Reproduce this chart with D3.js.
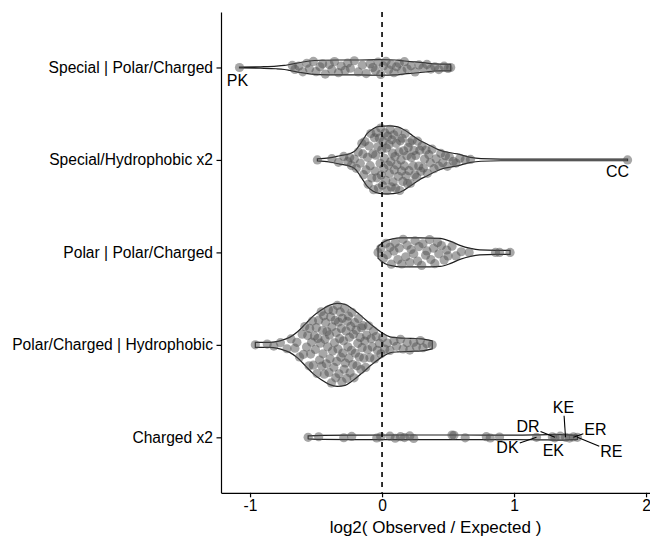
<!DOCTYPE html>
<html>
<head>
<meta charset="utf-8">
<script src="https://cdn.jsdelivr.net/npm/d3@7"></script>
<style>
  body { margin: 0; background: #fff; }
  svg text { font-family: "Liberation Sans", Arial, Helvetica, sans-serif; }
</style>
</head>
<body>
<svg id="chart"></svg>
<script>
const categories = ["Special | Polar/Charged", "Special/Hydrophobic x2", "Polar | Polar/Charged",
  "Polar/Charged | Hydrophobic", "Charged x2"];
const xTicks = [-1, 0, 1, 2];
const xTitle = "log2( Observed / Expected )";

// violin outlines: [log2 ratio, half width as a share of the category step]
const specialPolarViolin = [[-1.08,0.005],[-0.92,0.008],[-0.80,0.014],[-0.74,0.022],[-0.70,0.032],[-0.62,0.054],
  [-0.55,0.07],[-0.47,0.078],[-0.32,0.081],[-0.17,0.081],[-0.02,0.084],[0.10,0.081],[0.17,0.07],[0.25,0.06],
  [0.33,0.049],[0.40,0.038],[0.48,0.036],[0.52,0.033]];
const specialHydroViolin = [[-0.49,0.011],[-0.40,0.022],[-0.32,0.045],[-0.24,0.07],[-0.20,0.103],[-0.17,0.162],
  [-0.14,0.227],[-0.115,0.281],[-0.07,0.335],[-0.02,0.362],[0.05,0.368],[0.12,0.357],[0.17,0.324],[0.23,0.265],
  [0.28,0.216],[0.34,0.173],[0.44,0.103],[0.57,0.065],[0.67,0.027],[0.75,0.014],[0.90,0.009],[1.86,0.009]];
const polarPolarViolin = [[-0.03,0.065],[0.02,0.119],[0.08,0.146],[0.14,0.157],[0.29,0.157],[0.44,0.151],
  [0.52,0.119],[0.59,0.076],[0.67,0.043],[0.74,0.027],[0.86,0.022],[0.97,0.022]];
const polarHydroViolin = [[-0.96,0.027],[-0.85,0.027],[-0.79,0.038],[-0.74,0.059],[-0.70,0.081],[-0.64,0.141],
  [-0.58,0.227],[-0.52,0.314],[-0.46,0.378],[-0.40,0.427],[-0.34,0.449],[-0.28,0.438],[-0.22,0.384],[-0.15,0.303],
  [-0.08,0.216],[0.0,0.13],[0.06,0.086],[0.12,0.076],[0.22,0.07],[0.30,0.065],[0.38,0.043]];
const chargedViolin = [[-0.56,0.016],[-0.45,0.022],[-0.2,0.024],[0.2,0.025],[0.6,0.025],[1.0,0.024],
  [1.2,0.027],[1.35,0.03],[1.48,0.022]];

// points: [log2 ratio, place across the violin from -1 to 1]
const specialPolarPts = [[-1.08,0],[-0.68,0.6],[-0.66,-0.5],[-0.63,0.3],[-0.60,-0.8],[-0.57,0.7],[-0.55,-0.2],
  [-0.52,0.9],[-0.50,-0.6],[-0.47,0.1],[-0.45,0.5],[-0.43,-0.9],[-0.40,0.4],[-0.38,-0.3],[-0.36,0.8],[-0.33,-0.7],
  [-0.31,0.2],[-0.28,-0.4],[-0.26,0.6],[-0.24,-0.1],[-0.21,0.9],[-0.18,-0.6],[-0.15,0.3],[-0.12,-0.8],[-0.09,0.5],
  [-0.07,0.0],[-0.05,-0.4],[-0.03,0.7],[-0.01,-0.9],[0.01,0.2],[0.03,0.8],[0.05,-0.3],[0.07,0.4],[0.09,-0.7],
  [0.11,0.1],[0.13,0.6],[0.15,-0.5],[0.17,0.9],[0.19,-0.2],[0.22,0.3],[0.25,-0.8],[0.28,0.5],[0.31,-0.1],
  [0.34,0.7],[0.37,-0.4],[0.40,0.2],[0.43,-0.6],[0.47,0.4],[0.50,-0.3],[0.52,0.0]];
const specialHydroPts = [[-0.49,0],[-0.38,0.5],[-0.33,-0.6],[-0.29,0.7],[-0.26,-0.3],[-0.245,0.4],[-0.232,-0.8],
  [-0.21,0.1],[-0.195,-0.8],[-0.18,0.6],[-0.165,-0.2],[-0.153,0.9],[-0.145,0.3],[-0.14,-0.7],[-0.13,0.8],
  [-0.12,-0.4],[-0.11,0.1],[-0.105,-0.9],[-0.098,0.5],[-0.09,-0.2],[-0.085,0.9],[-0.078,-0.6],[-0.07,0.2],
  [-0.064,-0.95],[-0.057,0.7],[-0.052,-0.35],[-0.048,0.15],[-0.044,0.85],[-0.038,-0.55],[-0.032,0.4],
  [-0.027,-0.85],[-0.02,0.65],[-0.015,-0.1],[-0.01,0.95],[-0.006,-0.45],[-0.002,0.3],[0.003,-0.75],[0.008,0.55],
  [0.013,-0.25],[0.018,0.05],[0.022,0.8],[0.028,-0.6],[0.033,0.35],[0.038,-0.9],[0.043,0.7],[0.048,-0.15],
  [0.052,0.45],[0.056,-0.4],[0.061,0.9],[0.066,-0.05],[0.07,-0.8],[0.074,0.6],[0.079,0.2],[0.084,-0.65],
  [0.089,0.75],[0.093,-0.3],[0.098,0.1],[0.103,-0.85],[0.108,0.5],[0.113,-0.15],[0.118,0.85],[0.123,-0.5],
  [0.128,0.25],[0.134,-0.95],[0.139,0.6],[0.144,0],[0.148,-0.35],[0.153,0.7],[0.158,-0.7],[0.164,0.3],
  [0.17,-0.2],[0.176,0.9],[0.182,-0.55],[0.188,0.15],[0.193,-0.85],[0.198,0.45],[0.204,-0.4],[0.21,0.65],
  [0.216,-0.9],[0.222,0.1],[0.229,0.8],[0.236,-0.25],[0.242,0.4],[0.248,-0.65],[0.255,0.2],[0.262,-0.8],
  [0.27,0.9],[0.278,-0.3],[0.286,0.5],[0.294,-0.6],[0.303,0.75],[0.313,-0.45],[0.322,0.05],[0.333,0.6],
  [0.344,-0.85],[0.355,0.35],[0.366,-0.2],[0.38,0.8],[0.394,-0.7],[0.41,0.1],[0.43,-0.6],[0.445,0.7],
  [0.46,-0.3],[0.48,0.5],[0.495,-0.8],[0.51,0.4],[0.54,-0.2],[0.56,-0.5],[0.59,0.3],[0.63,0],[0.67,0.2],[1.86,0]];
const polarPolarPts = [[-0.03,0],[-0.01,0.5],[0.01,-0.6],[0.03,0.8],[0.04,-0.2],[0.06,0.4],[0.07,-0.9],[0.09,0.1],
  [0.10,0.7],[0.12,-0.5],[0.13,0.3],[0.15,-0.8],[0.16,0.9],[0.18,-0.3],[0.19,0.5],[0.21,-0.7],[0.22,0.2],
  [0.24,-0.1],[0.25,0.8],[0.27,-0.6],[0.28,0.4],[0.30,-0.9],[0.31,0.6],[0.33,-0.2],[0.34,0.1],[0.36,0.9],
  [0.37,-0.5],[0.39,0.3],[0.40,-0.8],[0.42,0.7],[0.43,-0.1],[0.45,0.5],[0.47,-0.6],[0.49,0.2],[0.50,-0.3],
  [0.53,0.6],[0.56,-0.4],[0.60,0.1],[0.66,0],[0.86,0],[0.89,0],[0.97,0]];
const polarHydroPts = [[-0.96,0],[-0.87,0.3],[-0.82,-0.4],[-0.77,0.5],[-0.72,-0.6],[-0.69,0.7],[-0.66,-0.3],
  [-0.645,0.2],[-0.625,-0.8],[-0.605,0.6],[-0.595,-0.5],[-0.585,0.9],[-0.572,-0.1],[-0.563,0.4],[-0.553,-0.85],
  [-0.548,0.65],[-0.541,-0.35],[-0.534,0.1],[-0.527,0.85],[-0.52,-0.7],[-0.512,0.3],[-0.505,-0.15],
  [-0.498,0.55],[-0.492,-0.9],[-0.486,0.2],[-0.48,0.75],[-0.473,-0.45],[-0.467,0.05],[-0.461,0.95],
  [-0.456,-0.6],[-0.451,0.4],[-0.447,-0.25],[-0.442,0.8],[-0.437,-0.8],[-0.432,0.15],[-0.427,0.6],
  [-0.422,-0.5],[-0.417,0.35],[-0.412,-0.05],[-0.406,0.9],[-0.402,-0.7],[-0.398,0.25],[-0.394,-0.35],
  [-0.389,0.7],[-0.384,-0.95],[-0.379,0.45],[-0.375,-0.15],[-0.37,0.85],[-0.365,-0.55],[-0.36,0.05],
  [-0.355,0.6],[-0.351,-0.8],[-0.347,0.3],[-0.343,-0.4],[-0.339,0.95],[-0.334,-0.1],[-0.33,0.55],
  [-0.326,-0.7],[-0.321,0.15],[-0.317,0.8],[-0.312,-0.3],[-0.308,0.4],[-0.304,-0.9],[-0.301,0.65],
  [-0.297,-0.2],[-0.292,0.1],[-0.287,-0.6],[-0.283,0.9],[-0.278,-0.45],[-0.273,0.35],[-0.268,-0.85],
  [-0.264,0.6],[-0.259,-0.05],[-0.255,0.75],[-0.251,-0.35],[-0.247,0.2],[-0.242,-0.75],[-0.237,0.5],
  [-0.232,-0.15],[-0.228,0.9],[-0.222,-0.55],[-0.217,0.3],[-0.212,-0.95],[-0.207,0.65],[-0.202,-0.25],
  [-0.196,0.45],[-0.19,-0.65],[-0.184,0.05],[-0.178,0.85],[-0.172,-0.4],[-0.166,0.25],[-0.16,-0.85],
  [-0.155,0.6],[-0.151,-0.1],[-0.145,0.7],[-0.138,-0.5],[-0.131,0.15],[-0.124,-0.9],[-0.117,0.4],
  [-0.109,-0.2],[-0.102,0.85],[-0.092,-0.6],[-0.083,0.3],[-0.074,-0.1],[-0.065,0.75],[-0.056,-0.8],
  [-0.045,0.5],[-0.035,-0.35],[-0.02,0.1],[-0.008,-0.7],[0.005,0.6],[0.02,-0.4],[0.04,0.2],[0.06,-0.7],
  [0.09,0.5],[0.11,-0.2],[0.14,0.8],[0.16,-0.6],[0.19,0.3],[0.21,-0.8],[0.24,0.4],[0.26,-0.3],[0.29,0.7],
  [0.31,-0.5],[0.34,0.2],[0.38,0]];
const chargedPts = [[-0.56,0],[-0.48,0.3],[-0.29,-0.2],[-0.23,0.4],[-0.04,-0.3],[-0.01,0.2],[0.06,0.5],
  [0.10,-0.4],[0.14,0.3],[0.17,-0.1],[0.21,0.6],[0.24,-0.5],[0.53,1],[0.545,0.9],[0.63,-0.2],[0.79,0.3],
  [0.82,-0.3],[0.89,0.1],[1.17,0],[1.29,0.2],[1.31,-0.2],[1.35,0.4],[1.39,0],[1.42,-0.3],[1.45,0.2],[1.48,0]];

// labelled points
const pointLabels = [
  { cat: "Special | Polar/Charged", value: -1.08, text: "PK" },
  { cat: "Special/Hydrophobic x2", value: 1.86, text: "CC" },
  { cat: "Charged x2", value: 1.39, text: "KE" },
  { cat: "Charged x2", value: 1.31, text: "DR" },
  { cat: "Charged x2", value: 1.45, text: "ER" },
  { cat: "Charged x2", value: 1.17, text: "DK" },
  { cat: "Charged x2", value: 1.29, text: "EK" },
  { cat: "Charged x2", value: 1.48, text: "RE" }
];
// label placement in px relative to its point (repel layout)
const labelNudge = { PK: [-2, 12.5], CC: [-10, 11.5], KE: [-2, -30], DR: [-27, -11],
  ER: [22, -8], DK: [-29, 10], EK: [1, 13.5], RE: [34, 14] };

const violins = new Map([
  [categories[0], { outline: specialPolarViolin, pts: specialPolarPts }],
  [categories[1], { outline: specialHydroViolin, pts: specialHydroPts }],
  [categories[2], { outline: polarPolarViolin, pts: polarPolarPts }],
  [categories[3], { outline: polarHydroViolin, pts: polarHydroPts }],
  [categories[4], { outline: chargedViolin, pts: chargedPts }]
]);

const W = 650, H = 536;
const m = { left: 221, right: 650, top: 12, bottom: 492.8 };

const svg = d3.select("#chart").attr("width", W).attr("height", H);

const x = d3.scaleLinear().domain([-1.22, 2.03]).range([m.left, m.right]);
const y = d3.scalePoint().domain(categories).range([m.top, m.bottom]).padding(0.6);
const step = y.step();

// half width of a violin at a given value (linear between outline points)
function halfWidth(outline, v) {
  const i = d3.bisector(d => d[0]).left(outline, v);
  if (i <= 0) return outline[0][1];
  if (i >= outline.length) return outline[outline.length - 1][1];
  const a = outline[i - 1], b = outline[i];
  const t = (v - a[0]) / (b[0] - a[0]);
  return a[1] + t * (b[1] - a[1]);
}

const area = d3.area().curve(d3.curveMonotoneX);

const gViolin = svg.append("g");
const gPts = svg.append("g");

violins.forEach((vd, cat) => {
  const cy = y(cat);
  gViolin.append("path")
    .attr("d", area.x(d => x(d[0])).y0(d => cy + d[1] * step).y1(d => cy - d[1] * step)(vd.outline))
    .attr("fill", "none")
    .attr("stroke", "#1e1e1e")
    .attr("stroke-width", 1.2);

  gPts.selectAll(null)
    .data(vd.pts)
    .enter()
    .append("circle")
    .attr("cx", d => x(d[0]))
    .attr("cy", d => cy - d[1] * halfWidth(vd.outline, d[0]) * step)
    .attr("r", 4.6)
    .attr("fill", "#505050")
    .attr("fill-opacity", 0.5);
});

// reference line at zero
svg.append("line")
  .attr("x1", x(0)).attr("x2", x(0))
  .attr("y1", m.top).attr("y2", m.bottom)
  .attr("stroke", "#000")
  .attr("stroke-width", 1.6)
  .attr("stroke-dasharray", "5,5");

// axes
const xAxis = svg.append("g")
  .attr("transform", `translate(0,${m.bottom})`)
  .call(d3.axisBottom(x).tickValues(xTicks).tickSize(4.5).tickSizeOuter(0).tickPadding(3).tickFormat(d3.format("d")));
const yAxis = svg.append("g")
  .attr("transform", `translate(${m.left},0)`)
  .call(d3.axisLeft(y).tickSize(4.5).tickSizeOuter(0).tickPadding(3.5));

[xAxis, yAxis].forEach(g => {
  g.attr("font-family", null).attr("font-size", null);
  g.select(".domain").attr("stroke", "#000").attr("stroke-width", 1.2);
  g.selectAll(".tick line").attr("stroke", "#000").attr("stroke-width", 1.2);
  g.selectAll(".tick text").attr("fill", "#000").style("font-size", "15.6px");
});
xAxis.selectAll(".tick text").text(d => d < 0 ? "-" + Math.abs(d) : d);

svg.append("text")
  .attr("x", (m.left + m.right) / 2)
  .attr("y", 532.6)
  .attr("text-anchor", "middle")
  .style("font-size", "17px")
  .attr("fill", "#000")
  .text(xTitle);

// point labels with leader segments
const gLab = svg.append("g");
pointLabels.forEach(l => {
  const px = x(l.value), py = y(l.cat);
  const [dx, dy] = labelNudge[l.text];
  const lx = px + dx, ly = py + dy;
  const t = gLab.append("text")
    .attr("x", lx).attr("y", ly)
    .attr("dy", "0.35em")
    .attr("text-anchor", "middle")
    .style("font-size", "16px")
    .attr("fill", "#000")
    .text(l.text);
  const bb = t.node().getBBox();
  const hw = bb.width / 2 + 1, hh = bb.height / 2;
  const vx = px - lx, vy = py - ly;
  const s = Math.min(vx ? hw / Math.abs(vx) : Infinity, vy ? hh / Math.abs(vy) : Infinity);
  const len = (1 - s) * Math.hypot(vx, vy);
  if (s < 1 && len > 6) {
    gLab.append("line")
      .attr("x1", lx + s * vx).attr("y1", ly + s * vy)
      .attr("x2", px).attr("y2", py)
      .attr("stroke", "#000")
      .attr("stroke-width", 1.1);
  }
});
</script>
</body>
</html>
